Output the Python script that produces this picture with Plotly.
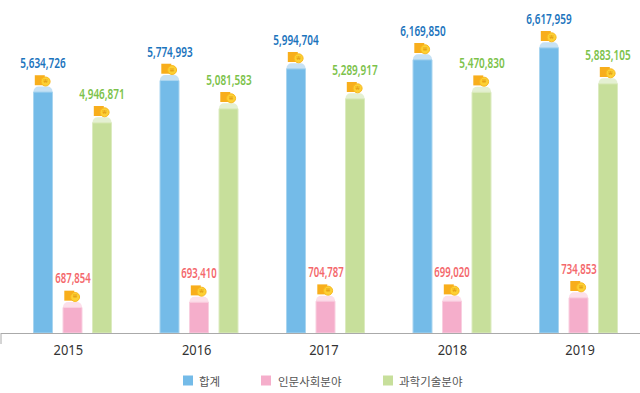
import plotly.graph_objects as go

years = ["2015", "2016", "2017", "2018", "2019"]
# Printed labels
total = [5634726, 5774993, 5994704, 6169850, 6617959]
humanities = [687854, 693410, 704787, 699020, 734853]
science = [4946871, 5081583, 5289917, 5470830, 5883105]
# Bar heights as drawn in the picture (the drawing does not follow the labels exactly)
total_drawn = [5634000, 5897000, 6165000, 6371000, 6645000]
humanities_drawn = [709000, 830000, 853000, 853000, 930000]
science_drawn = [4931000, 5251000, 5479000, 5630000, 5822000]
series_names = ["합계", "인문사회분야", "과학기술분야"]
body_colors = ["#74bbe8", "#f5aecb", "#c7df9b"]
edge_colors = ["#a9d5f0", "#f9cfe0", "#dcebc0"]
cap_colors = ["#c6e1f4", "#fcdfea", "#e4f0d2"]
text_colors = ["#1b74bd", "#f4686c", "#7cc24a"]
tick_pos = [-0.033, 0.982, 1.988, 3.003, 4.012]
legend_swatch_px = [183, 261, 383]
legend_text_px = [198, 277, 398]

PX_X = 126.5
PX_Y = 5634726 / 246.5
pitch = 29.5 / PX_X
bw = 19 / PX_X
cap = 5.5 * PX_Y
xs = list(range(5))
fig = go.Figure()
labels = [total, humanities, science]
drawn = [total_drawn, humanities_drawn, science_drawn]

for s, vals in enumerate(drawn):
    xp = [i + (s - 1) * pitch for i in xs]
    fig.add_bar(x=xp, y=vals, width=bw, marker=dict(color=cap_colors[s], cornerradius=5, line=dict(width=0)),
                showlegend=False, hoverinfo="skip")
    fig.add_bar(x=xp, y=[v - cap for v in vals], width=bw,
                marker=dict(color=body_colors[s], line=dict(width=1, color=edge_colors[s])),
                showlegend=False, hoverinfo="skip")
    fig.add_scatter(x=[x - 3.2 / PX_X for x in xp], y=[v + 6.3 * PX_Y for v in vals], mode="markers",
                    showlegend=False, hoverinfo="skip",
                    marker=dict(symbol="square", size=10, color="#f8ae1c", line=dict(width=0)))
    fig.add_scatter(x=[x + 2.6 / PX_X for x in xp], y=[v + 5 * PX_Y for v in vals], mode="markers+text",
                    showlegend=False, hoverinfo="skip", text=["₩"] * 5, textposition="middle center",
                    textfont=dict(size=6, color="#e39a10", family="Noto Sans"),
                    marker=dict(symbol="circle", size=9, color="#fdd033", line=dict(width=1, color="#f8b820")))
    for i, v in enumerate(vals):
        fig.add_annotation(x=xp[i], y=v, text=f"{labels[s][i]:,}", showarrow=False, yshift=24,
                           yanchor="middle", font=dict(family="Noto Sans", size=14, weight=600, color=text_colors[s]))

left = 1
width_plot = 639
plot_h = 333
x0 = -(72.5 - left) / PX_X
shapes = [dict(type="line", xref="paper", yref="paper", x0=0, x1=0, y0=0, y1=-11 / plot_h,
               line=dict(color="#aaa", width=1))]
for s, n in enumerate(series_names):
    sx = (legend_swatch_px[s] - left) / width_plot
    shapes.append(dict(type="rect", xref="paper", yref="paper", x0=sx, x1=sx + 10 / width_plot,
                       y0=(plot_h - 375.5) / plot_h, y1=(plot_h - 385.5) / plot_h,
                       fillcolor=body_colors[s], line=dict(width=0)))
    fig.add_annotation(xref="paper", yref="paper", x=(legend_text_px[s] - left) / width_plot,
                       y=(plot_h - 380.5) / plot_h, text=n, showarrow=False, xanchor="left", yanchor="middle",
                       xshift=-1, font=dict(family="Noto Sans CJK KR", size=11.5, color="#555"))

fig.update_layout(
    width=640, height=393, autosize=False, barmode="overlay", plot_bgcolor="white", paper_bgcolor="white",
    margin=dict(l=left, r=0, t=0, b=60), showlegend=False,
    xaxis=dict(range=[x0, x0 + width_plot / PX_X], tickmode="array", tickvals=tick_pos, ticktext=years, ticks="",
               showgrid=False, zeroline=False, showline=True, linecolor="#aaa", linewidth=1,
               tickfont=dict(family="Noto Sans", size=14, color="#333"), ticklabelstandoff=4),
    yaxis=dict(range=[0, plot_h * PX_Y], visible=False, showgrid=False),
    shapes=shapes,
)
post = """
document.body.style.margin='0';
var gd=document.getElementById('{plot_id}');
function narrow(){
 document.querySelectorAll('.annotation-text').forEach(function(t){
  if(/^[0-9,]+$/.test(t.textContent)){
   t.setAttribute('textLength',(t.textContent.length*5.05).toFixed(1));
   t.setAttribute('lengthAdjust','spacingAndGlyphs');}});
 document.querySelectorAll('.xtick text').forEach(function(t){
  t.setAttribute('textLength','29.5');t.setAttribute('lengthAdjust','spacingAndGlyphs');});
}
narrow(); if(gd.on){gd.on('plotly_afterplot',narrow);} setTimeout(narrow,50);
"""
fig.write_html("out.html", post_script=post, config={"displayModeBar": False})
